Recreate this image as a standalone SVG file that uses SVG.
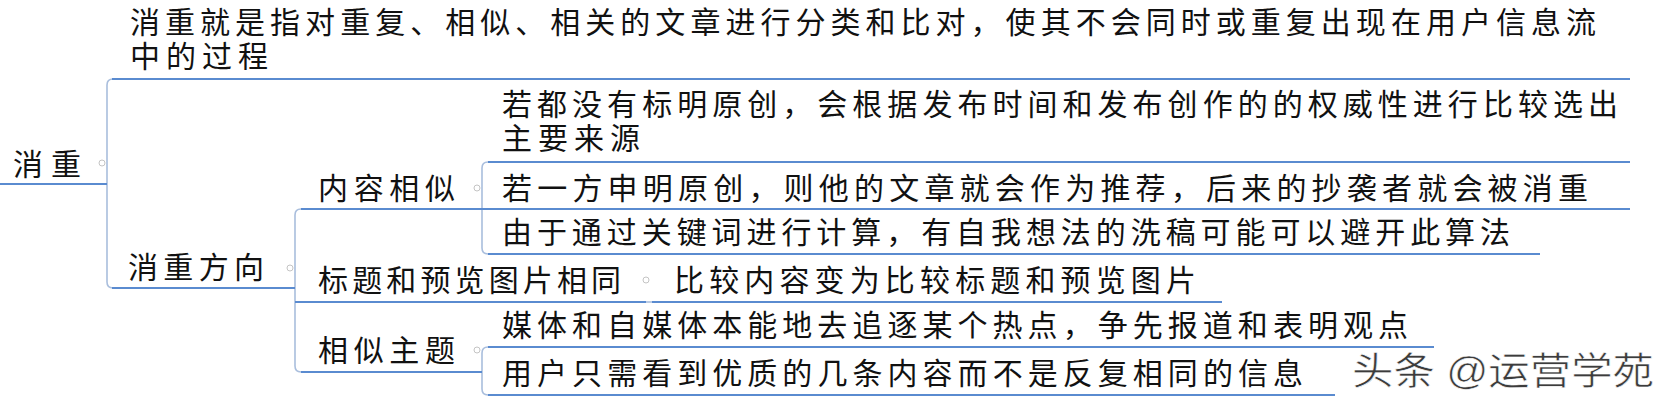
<svg xmlns="http://www.w3.org/2000/svg" width="1670" height="401" viewBox="0 0 1670 401">
<style>
  .t { font-family: "Liberation Sans", "Noto Sans CJK SC", sans-serif; font-size: 30px; fill: #111; }
  .u { stroke: #5a8bd0; stroke-width: 2; fill: none; }
  .b { stroke: #a9bedd; stroke-width: 1.6; fill: none; }
  .c { stroke: #c4c4c4; stroke-width: 1; fill: #fff; }
  .wm { font-family: "Liberation Sans", "Noto Sans CJK SC", sans-serif; font-size: 38px; fill: #3c3c3c; stroke: #fff; stroke-width: 0.6; }
</style>
<rect width="1670" height="401" fill="#fff"/>
<g id="connectors">
  <path class="b" d="M113,79 Q107,79 107,85 V282 Q107,288 113,288"/>
  <path class="b" d="M301,209 Q295,209 295,215 V366 Q295,372 301,372"/>
  <path class="b" d="M488,162 Q482,162 482,168 V248 Q482,254 488,254"/>
  <path class="b" d="M488,347 Q482,347 482,353 V389 Q482,395 488,395"/>
  <path class="b" d="M646,302 H652"/>
</g>
<g id="n-root">
  <text class="t" x="13" y="175" textLength="68" lengthAdjust="spacing">消重</text>
  <line class="u" x1="0" y1="184" x2="107" y2="184"/>
  <circle class="c" cx="102" cy="163" r="3"/>
</g>
<g id="n-def">
  <text class="t"><tspan x="130" y="33" textLength="1466" lengthAdjust="spacing">消重就是指对重复、相似、相关的文章进行分类和比对，使其不会同时或重复出现在用户信息流</tspan><tspan x="130" y="67" textLength="138" lengthAdjust="spacing">中的过程</tspan></text>
  <line class="u" x1="112" y1="79" x2="1630" y2="79"/>
</g>
<g id="n-dir">
  <text class="t" x="128" y="278" textLength="136" lengthAdjust="spacing">消重方向</text>
  <line class="u" x1="112" y1="288" x2="295" y2="288"/>
  <circle class="c" cx="290" cy="268" r="3"/>
</g>
<g id="n-content">
  <text class="t" x="318" y="199" textLength="137" lengthAdjust="spacing">内容相似</text>
  <line class="u" x1="301" y1="209" x2="482" y2="209"/>
  <circle class="c" cx="477" cy="188" r="3"/>
</g>
<g id="n-c1">
  <text class="t"><tspan x="502" y="115" textLength="1116" lengthAdjust="spacing">若都没有标明原创，会根据发布时间和发布创作的的权威性进行比较选出</tspan><tspan x="502" y="149" textLength="138" lengthAdjust="spacing">主要来源</tspan></text>
  <line class="u" x1="488" y1="162" x2="1630" y2="162"/>
</g>
<g id="n-c2">
  <text class="t" x="502" y="199" textLength="1086" lengthAdjust="spacing">若一方申明原创，则他的文章就会作为推荐，后来的抄袭者就会被消重</text>
  <line class="u" x1="482" y1="209" x2="1630" y2="209"/>
</g>
<g id="n-c3">
  <text class="t" x="502" y="243" textLength="1008" lengthAdjust="spacing">由于通过关键词进行计算，有自我想法的洗稿可能可以避开此算法</text>
  <line class="u" x1="488" y1="254" x2="1540" y2="254"/>
</g>
<g id="n-title">
  <text class="t" x="318" y="291" textLength="303" lengthAdjust="spacing">标题和预览图片相同</text>
  <line class="u" x1="295" y1="302" x2="646" y2="302"/>
  <circle class="c" cx="646" cy="280" r="3"/>
</g>
<g id="n-t1">
  <text class="t" x="674" y="291" textLength="522" lengthAdjust="spacing">比较内容变为比较标题和预览图片</text>
  <line class="u" x1="652" y1="302" x2="1222" y2="302"/>
</g>
<g id="n-topic">
  <text class="t" x="318" y="361" textLength="137" lengthAdjust="spacing">相似主题</text>
  <line class="u" x1="301" y1="372" x2="482" y2="372"/>
  <circle class="c" cx="477" cy="350" r="3"/>
</g>
<g id="n-s1">
  <text class="t" x="502" y="336" textLength="906" lengthAdjust="spacing">媒体和自媒体本能地去追逐某个热点，争先报道和表明观点</text>
  <line class="u" x1="488" y1="347" x2="1434" y2="347"/>
</g>
<g id="n-s2">
  <text class="t" x="502" y="384" textLength="801" lengthAdjust="spacing">用户只需看到优质的几条内容而不是反复相同的信息</text>
  <line class="u" x1="488" y1="395" x2="1335" y2="395"/>
</g>
<text class="wm" x="1352" y="384" textLength="302" lengthAdjust="spacingAndGlyphs">头条 @运营学苑</text>
</svg>
